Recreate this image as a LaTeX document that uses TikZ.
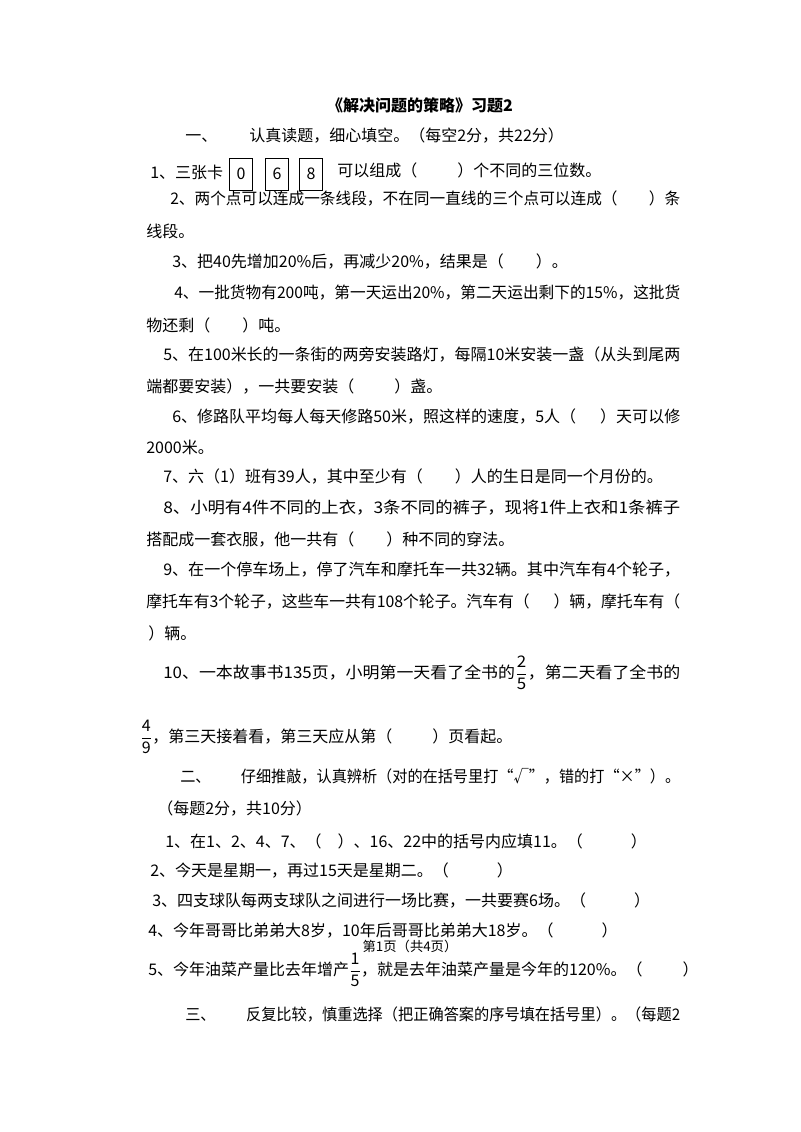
\documentclass[tikz,border=0pt]{standalone}
\usepackage{fontspec}
\setmainfont{Noto Sans CJK SC}
\usepackage{graphicx}
\newcommand\gap[1]{\hspace*{#1em}}
\newcommand\fr[2]{$\displaystyle\frac{\mbox{#1}}{\mbox{#2}}$}
\begin{document}
\begin{tikzpicture}[x=0.75pt,y=-0.75pt,
  txt/.style={anchor=west,inner sep=0pt,font=\fontsize{12}{14}\selectfont},
  card/.style={draw,line width=0.6pt,minimum width=17pt,minimum height=24pt,inner sep=0pt,font=\fontsize{12}{14}\selectfont}]
\useasboundingbox (0,0) rectangle (800,1132);
\fill[white] (0,0) rectangle (800,1132);
\newcommand\jl[4]{\pgfmathsetlengthmacro\w{(680-#2)*0.75pt}\node[txt] (#1) at (#2,#3) {\resizebox{\w}{\height}{#4}};}
\node[inner sep=0pt,font=\fontsize{12}{14}\selectfont\bfseries] (title) at (420,105) {《解决问题的策略》习题2};
\node[txt] (s1) at (185,136) {一、\gap{2}认真读题，细心填空。（每空2分，共22分）};
\node[txt] (q1a) at (150,172) {1、三张卡};
\node[card] (c0) at (241,174) {0};
\node[card] (c6) at (277,174) {6};
\node[card] (c8) at (311,174) {8};
\node[txt] (q1b) at (337,170) {可以组成（\gap{2.5}）个不同的三位数。};
\jl{q2}{170}{199}{2、两个点可以连成一条线段，不在同一直线的三个点可以连成（\gap{2}）条}
\node[txt] (q2b) at (146,231) {线段。};
\node[txt] (q3) at (172,262) {3、把40先增加20\%后，再减少20\%，结果是（\gap{2}）。};
\jl{q4}{174}{293}{4、一批货物有200吨，第一天运出20\%，第二天运出剩下的15\%，这批货}
\node[txt] (q4b) at (146,325) {物还剩（\gap{2}）吨。};
\jl{q5}{163}{355}{5、在100米长的一条街的两旁安装路灯，每隔10米安装一盏（从头到尾两}
\node[txt] (q5b) at (146,387) {端都要安装），一共要安装（\gap{2.5}）盏。};
\jl{q6}{172}{416}{6、修路队平均每人每天修路50米，照这样的速度，5人（\gap{1.5}）天可以修}
\node[txt] (q6b) at (146,447) {2000米。};
\node[txt] (q7) at (163,477) {7、六（1）班有39人，其中至少有（\gap{2}）人的生日是同一个月份的。};
\jl{q8}{163}{508}{8、小明有4件不同的上衣，3条不同的裤子，现将1件上衣和1条裤子}
\node[txt] (q8b) at (146,539) {搭配成一套衣服，他一共有（\gap{2}）种不同的穿法。};
\jl{q9}{163}{570}{9、在一个停车场上，停了汽车和摩托车一共32辆。其中汽车有4个轮子，}
\jl{q9b}{146}{601}{摩托车有3个轮子，这些车一共有108个轮子。汽车有（\gap{1.5}）辆，摩托车有（}
\node[txt] (q9c) at (148,633) {）辆。};
\jl{q10}{163}{673}{10、一本故事书135页，小明第一天看了全书的\fr{2}{5}，第二天看了全书的}
\node[txt] (q10b) at (140,737) {\fr{4}{9}，第三天接着看，第三天应从第（\gap{2.5}）页看起。};
\jl{s2}{180}{776}{二、\gap{2}仔细推敲，认真辨析（对的在括号里打“√”，错的打“×”）。}
\node[txt] (s2b) at (157,808) {（每题2分，共10分）};
\node[txt] (j1) at (165,841) {1、在1、2、4、7、（\gap{1}）、16、22中的括号内应填11。（\gap{3}）};
\node[txt] (j2) at (150,870) {2、今天是星期一，再过15天是星期二。（\gap{3}）};
\node[txt] (j3) at (152,900) {3、四支球队每两支球队之间进行一场比赛，一共要赛6场。（\gap{3}）};
\node[txt] (j4) at (148,930) {4、今年哥哥比弟弟大8岁，10年后哥哥比弟弟大18岁。（\gap{3}）};
\node[inner sep=0pt,font=\fontsize{10}{12}\selectfont] (foot) at (410,946) {第1页（共4页）};
\node[txt] (j5) at (148,970) {5、今年油菜产量比去年增产\fr{1}{5}，就是去年油菜产量是今年的120\%。（\gap{2.5}）};
\jl{s3}{185}{1014}{三、\gap{2}反复比较，慎重选择（把正确答案的序号填在括号里）。（每题2}
\end{tikzpicture}
\end{document}
